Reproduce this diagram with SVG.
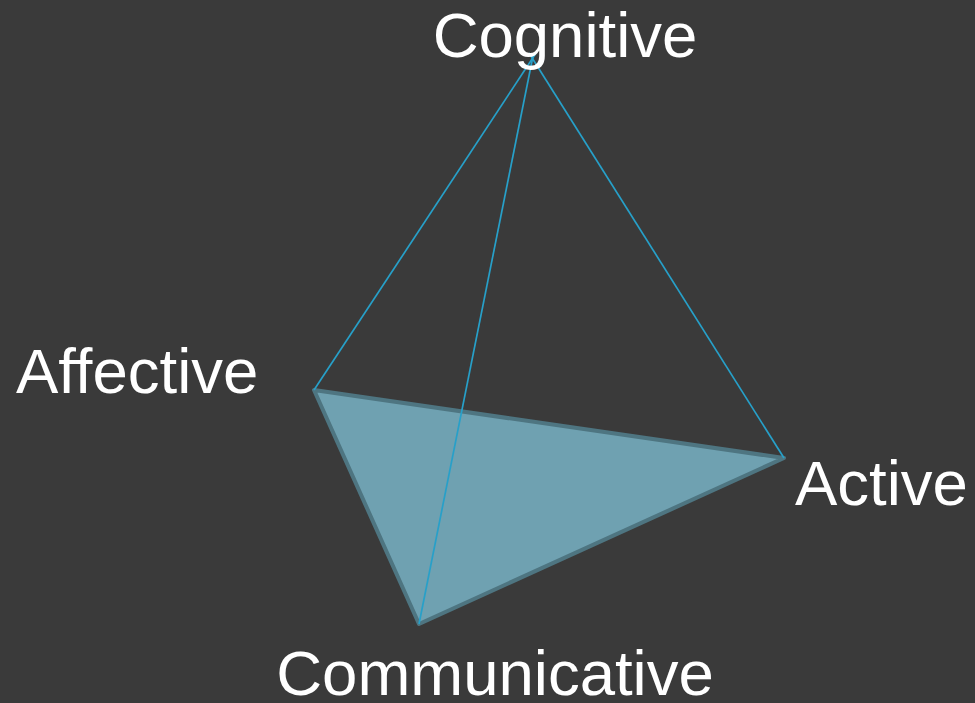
<svg xmlns="http://www.w3.org/2000/svg" width="975" height="703" viewBox="0 0 975 703">
<style>
.lbl{font-family:"Liberation Sans",Arial,sans-serif;font-size:63.5px;fill:#ffffff}
.edge{stroke:#27a0c9;stroke-width:1.7;fill:none}
</style>
<rect width="975" height="703" fill="#3a3a3a"/>
<g id="base">
<polygon points="314,390 784,458 419,624" fill="#6fa1b1" stroke="#4e7581" stroke-width="4" stroke-linejoin="round"/>
</g>
<g id="connectors">
<line class="edge" x1="536" y1="53" x2="314" y2="390"/>
<line class="edge" x1="529" y1="53" x2="784" y2="458"/>
<line class="edge" x1="533" y1="56" x2="419" y2="624"/>
</g>
<g id="cognitive"><text class="lbl" x="565" y="57" text-anchor="middle">Cognitive</text></g>
<g id="affective"><text class="lbl" x="16" y="393">Affective</text></g>
<g id="active"><text class="lbl" x="795" y="505">Active</text></g>
<g id="communicative"><text class="lbl" x="495" y="695" text-anchor="middle">Communicative</text></g>
</svg>
